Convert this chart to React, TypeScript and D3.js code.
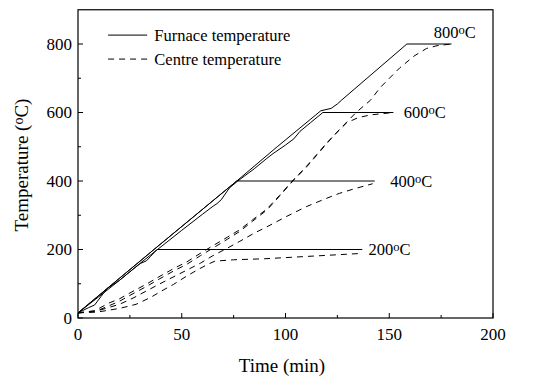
import React, { useEffect, useRef } from 'react';
import * as d3 from 'd3';

// axis ticks
const xTicks = [0, 50, 100, 150, 200];
const xMinor = [25, 75, 125, 175];
const yTicks = [0, 200, 400, 600, 800];
const yMinor = [100, 300, 500, 700];

// furnace temperature curves [time (min), temperature (oC)]
const furnace200 = [[0, 15], [5, 30], [8, 38], [11, 62], [14, 86], [20, 110], [25, 135], [30, 159], [33, 167], [35, 180], [38, 200], [137, 200]];
const furnace400 = [[0, 15], [38, 207], [76.5, 400], [143, 400]];
const furnace600 = [[0, 15], [10, 62], [20, 110], [30, 160], [40, 208], [50, 256], [60, 303], [65, 326], [67, 334], [69, 345], [73, 380], [77, 400], [85, 436], [91, 466], [94, 480], [100, 505], [104, 523], [107, 545], [112, 570], [118, 600], [152, 600]];
const furnace800 = [[0, 15], [38, 207], [76.5, 400], [96, 500], [117, 605], [122, 612], [125, 625], [127, 636], [158.5, 800], [180, 800]];

// centre temperature curves
const centre200 = [[0, 15], [10, 18], [20, 28], [28, 40], [35, 60], [40, 78], [46, 98], [52, 121], [58, 142], [63, 158], [66, 166], [75, 170], [90, 173], [105, 178], [120, 183], [135, 188]];
const centre400 = [[0, 15], [10, 22], [20, 40], [26.5, 58], [39.5, 100], [52.5, 140], [59, 160], [65, 182], [72, 204], [78, 224], [85, 248], [91, 266], [100, 295], [110, 325], [120, 350], [126, 364], [133, 377], [142, 392]];
const centre600 = [[0, 15], [8, 18], [15, 36], [20, 49], [26.5, 71], [33, 92], [39.5, 115], [46, 137], [52.5, 157], [59, 182], [65, 204], [72, 230], [78, 253], [84, 282], [91, 315], [97, 355], [104, 403], [110, 440], [115, 475], [120, 510], [124, 537], [129.5, 570], [135, 585], [141, 593], [152, 600]];
const centre800 = [[0, 15], [8, 21], [15, 44], [20, 56], [26.5, 78], [33, 99], [39.5, 122], [46, 144], [52.5, 164], [59, 189], [65, 211], [72, 236], [78, 258], [84, 286], [91, 318], [97, 357], [104, 405], [110, 442], [115, 477], [120, 512], [126, 550], [134, 600], [141, 636], [145.5, 672], [155, 730], [162, 765], [168, 787], [173, 795], [180, 800]];

const furnaceCurves = [furnace200, furnace400, furnace600, furnace800];
const centreCurves = [centre200, centre400, centre600, centre800];

// level labels: [text value, time, temperature] where the label sits
const levelLabels = [[200, 140, 200], [400, 150.5, 400], [600, 157, 600], [800, 171.5, 835]];

export default function App() {
  const ref = useRef(null);

  useEffect(() => {
    const width = 535, height = 386;
    const svg = d3.select(ref.current);
    svg.selectAll('*').remove();

    const x = d3.scaleLinear().domain([0, 200]).range([78, 493]);
    const y = d3.scaleLinear().domain([0, 900]).range([318, 9.75]);
    const font = '"Liberation Serif", "Times New Roman", serif';

    const line = d3.line()
      .x((d) => x(d[0]))
      .y((d) => y(d[1]));

    // frame
    svg.append('rect')
      .attr('x', x(0)).attr('y', y(900))
      .attr('width', x(200) - x(0)).attr('height', y(0) - y(900))
      .attr('fill', 'none').attr('stroke', '#000').attr('stroke-width', 1.2);

    // ticks (inward)
    const g = svg.append('g').attr('stroke', '#000').attr('stroke-width', 1);
    xTicks.forEach((t) => g.append('line').attr('x1', x(t)).attr('x2', x(t)).attr('y1', y(0)).attr('y2', y(0) - 5));
    xMinor.forEach((t) => g.append('line').attr('x1', x(t)).attr('x2', x(t)).attr('y1', y(0)).attr('y2', y(0) - 3));
    yTicks.forEach((t) => g.append('line').attr('y1', y(t)).attr('y2', y(t)).attr('x1', x(0)).attr('x2', x(0) + 5));
    yMinor.forEach((t) => g.append('line').attr('y1', y(t)).attr('y2', y(t)).attr('x1', x(0)).attr('x2', x(0) + 3));

    // tick labels
    svg.append('g').selectAll('text').data(xTicks).enter().append('text')
      .attr('x', (d) => x(d)).attr('y', 340)
      .attr('text-anchor', 'middle')
      .style('font', `17px ${font}`)
      .text((d) => d);
    svg.append('g').selectAll('text').data(yTicks).enter().append('text')
      .attr('x', 72).attr('y', (d) => y(d)).attr('dy', '0.35em')
      .attr('text-anchor', 'end')
      .style('font', `17px ${font}`)
      .text((d) => d);

    // axis titles
    svg.append('text')
      .attr('x', 282).attr('y', 372)
      .attr('text-anchor', 'middle')
      .style('font', `19px ${font}`)
      .text('Time (min)');
    const yt = svg.append('text')
      .attr('transform', 'translate(28,165) rotate(-90)')
      .attr('text-anchor', 'middle')
      .style('font', `19px ${font}`);
    yt.append('tspan').text('Temperature (');
    yt.append('tspan').attr('dy', -5).style('font-size', '14px').text('o');
    yt.append('tspan').attr('dy', 5).text('C)');

    // curves
    furnaceCurves.forEach((c) => {
      svg.append('path').attr('d', line(c))
        .attr('fill', 'none').attr('stroke', '#000').attr('stroke-width', 1);
    });
    centreCurves.forEach((c) => {
      svg.append('path').attr('d', line(c))
        .attr('fill', 'none').attr('stroke', '#000').attr('stroke-width', 1)
        .attr('stroke-dasharray', '6,5');
    });

    // level labels
    levelLabels.forEach(([v, t, temp]) => {
      const tx = svg.append('text')
        .attr('x', x(t)).attr('y', y(temp)).attr('dy', '0.35em')
        .style('font', `16.5px ${font}`);
      tx.append('tspan').text(v);
      tx.append('tspan').attr('dy', -4).style('font-size', '12.5px').text('o');
      tx.append('tspan').attr('dy', 4).text('C');
    });

    // legend
    const legend = [['Furnace temperature', null, 826], ['Centre temperature', '6,5', 756]];
    legend.forEach(([label, dash, temp]) => {
      svg.append('line')
        .attr('x1', x(14.5)).attr('x2', x(33.3))
        .attr('y1', y(temp)).attr('y2', y(temp))
        .attr('stroke', '#000').attr('stroke-width', 1)
        .attr('stroke-dasharray', dash);
      svg.append('text')
        .attr('x', x(36.8)).attr('y', y(temp)).attr('dy', '0.33em')
        .style('font', `16.5px ${font}`)
        .text(label);
    });
  }, []);

  return (
    <div style={{ position: 'absolute', left: 0, top: 0, background: '#fff' }}>
      <svg ref={ref} width={535} height={386}></svg>
    </div>
  );
}
